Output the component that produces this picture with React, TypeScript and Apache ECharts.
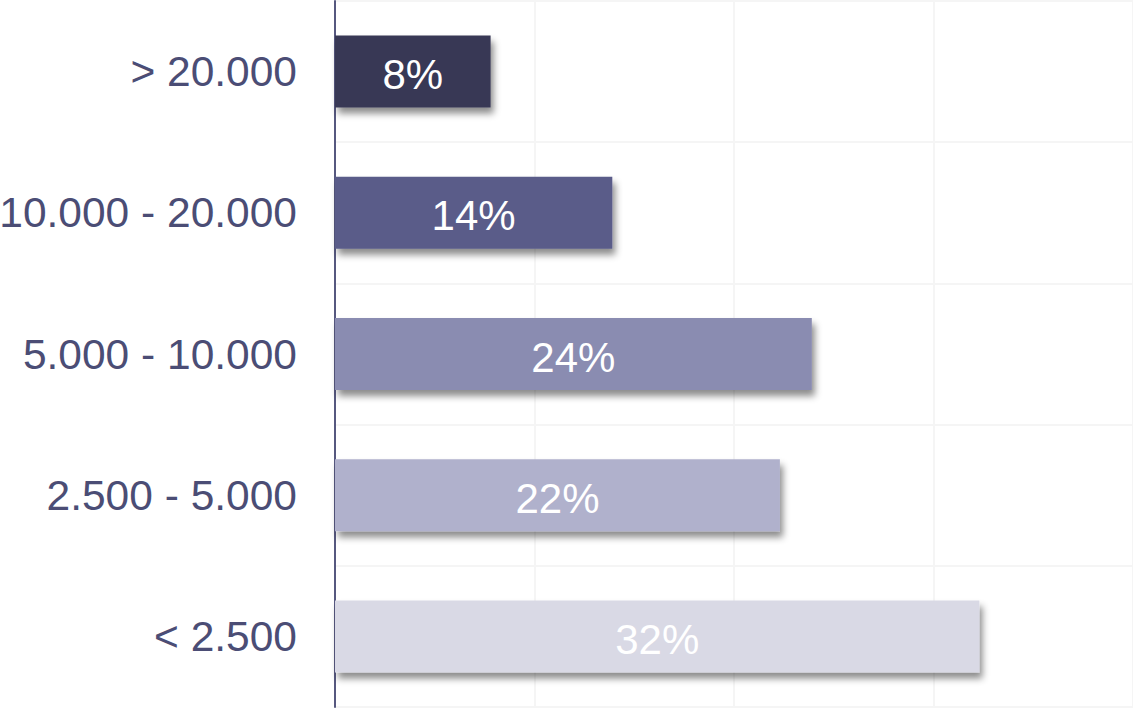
import React, { useEffect, useRef } from "react";
import * as echarts from "echarts";

const categories = ["> 20.000", "10.000 - 20.000", "5.000 - 10.000", "2.500 - 5.000", "< 2.500"];
const values = [7.8, 13.9, 23.9, 22.3, 32.3];
const labels = ["8%", "14%", "24%", "22%", "32%"];
const colors = ["#383854", "#5a5b89", "#8a8cb1", "#b0b1cc", "#d9d9e5"];

export default function App() {
  const ref = useRef<HTMLDivElement>(null);
  useEffect(() => {
    if (!ref.current) return;
    const chart = echarts.init(ref.current, null, { renderer: "svg" });
    chart.setOption({
      animation: false,
      backgroundColor: "#ffffff",
      grid: { left: 335, right: 0, top: 1, bottom: 6, containLabel: false, outerBoundsMode: "none" },
      xAxis: {
        type: "value",
        min: 0,
        max: 40,
        interval: 10,
        axisLine: { show: false },
        axisTick: { show: false },
        axisLabel: { show: false },
        splitLine: { show: true, lineStyle: { color: "#f5f5f5", width: 2 } },
      },
      yAxis: {
        type: "category",
        inverse: true,
        data: categories,
        axisLine: { show: true, lineStyle: { color: "#56587f", width: 2 } },
        axisTick: { show: false },
        axisLabel: {
          color: "#4b4d75",
          fontSize: 42.5,
          fontFamily: "Liberation Sans, Arial, sans-serif",
          margin: 38,
        },
        splitLine: { show: true, lineStyle: { color: "#f5f5f5", width: 2 } },
      },
      series: [
        {
          type: "bar",
          barWidth: "51%",
          data: values.map((v, i) => ({
            value: v,
            itemStyle: {
              color: colors[i],
              shadowColor: "rgba(0,0,0,0.45)",
              shadowBlur: 7,
              shadowOffsetX: 3,
              shadowOffsetY: 6,
            },
          })),
          label: {
            show: true,
            position: "inside",
            color: "#ffffff",
            fontSize: 42,
            fontFamily: "Liberation Sans, Arial, sans-serif",
            offset: [0, 3],
            formatter: (p: any) => labels[p.dataIndex],
          },
        },
      ],
    });
    return () => chart.dispose();
  }, []);
  return (
    <div
      ref={ref}
      style={{ position: "fixed", left: 0, top: 0, width: 1133, height: 713 }}
    />
  );
}
